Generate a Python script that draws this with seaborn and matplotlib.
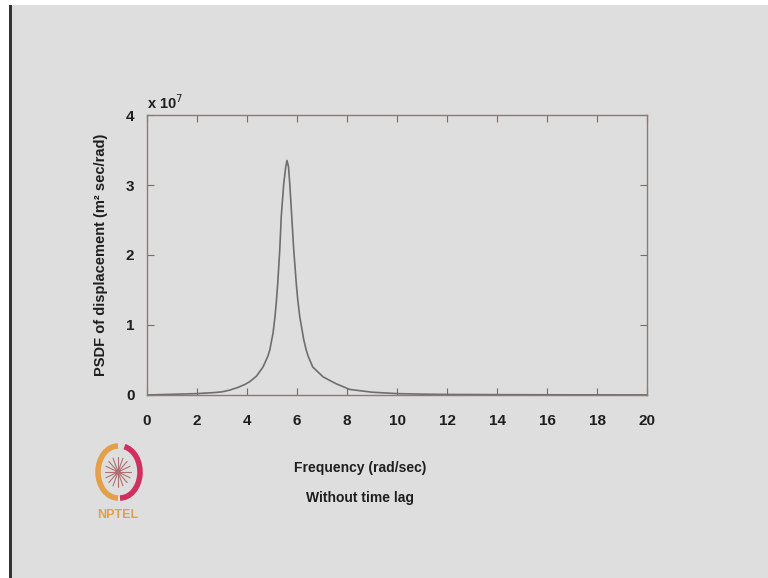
import numpy as np
import pandas as pd
import seaborn as sns
import matplotlib.pyplot as plt
from matplotlib.patches import Rectangle, Ellipse, Arc

# Valores (PSDF em unidades de 1e7)
freq = [0, 1, 2, 2.7, 3.0, 3.31, 3.65, 3.91, 4.11, 4.38, 4.64, 4.83, 4.91, 4.99, 5.04, 5.12,
        5.18, 5.23, 5.31, 5.37, 5.47, 5.55, 5.6, 5.66, 5.71, 5.79, 5.87, 5.97, 6.03, 6.11,
        6.27, 6.37, 6.45, 6.63, 7.04, 7.3, 7.57, 7.84, 8.1, 9, 10, 11, 12, 14, 16, 18, 20]
psd_1e7 = [0.0, 0.01, 0.02, 0.035, 0.045, 0.07, 0.11, 0.15, 0.19, 0.27, 0.40, 0.55, 0.64, 0.79, 0.88, 1.12,
           1.36, 1.6, 2.07, 2.55, 3.02, 3.26, 3.35, 3.26, 3.02, 2.55, 2.07, 1.6, 1.36, 1.12,
           0.79, 0.64, 0.55, 0.40, 0.26, 0.21, 0.16, 0.12, 0.08, 0.04, 0.02, 0.012, 0.008, 0.005,
           0.003, 0.002, 0.001]
xticks = list(range(0, 21, 2))
yticks = [0, 1, 2, 3, 4]

df = pd.DataFrame({'freq': freq, 'psd': psd_1e7})

sns.set_style('white')
plt.rcParams['font.family'] = ['Liberation Sans', 'DejaVu Sans']

bg = '#dedede'
fig = plt.figure(figsize=(7.68, 5.78), dpi=100, facecolor='white')
# fundo do slide
fig.patches.append(Rectangle((11 / 768, 0), 1 - 11 / 768, 1 - 5 / 578, transform=fig.transFigure,
                             facecolor=bg, edgecolor='none', zorder=-2))
fig.patches.append(Rectangle((9 / 768, 0), 2.5 / 768, 1 - 5 / 578, transform=fig.transFigure,
                             facecolor='#333333', edgecolor='none', zorder=-1))

ax = fig.add_axes([147 / 768, 183 / 578, 500 / 768, 280 / 578])
ax.set_facecolor(bg)
sns.lineplot(data=df, x='freq', y='psd', ax=ax, color='#6e6e6e', linewidth=1.2)

ax.set_xlim(0, 20)
ax.set_ylim(0, 4)
ax.set_xticks(xticks)
ax.set_yticks(yticks)
ax.set_xticklabels([str(t) for t in xticks], fontsize=11, fontweight='bold', color='#1e1e1e')
ax.set_yticklabels([str(t) for t in yticks], fontsize=11, fontweight='bold', color='#1e1e1e')
ax.tick_params(axis='x', direction='in', length=5, pad=14, top=True, bottom=True, color='#7a6a6a')
ax.tick_params(axis='y', direction='in', length=5, pad=9, right=True, left=True, color='#7a6a6a')
for s in ax.spines.values():
    s.set_visible(True)
    s.set_color('#8a7a7a')
    s.set_linewidth(1.0)

ax.set_xlabel('')
ax.set_ylabel('PSDF of displacement (m² sec/rad)', fontsize=10.5, fontweight='bold',
              color='#1e1e1e', labelpad=13)
ax.text(0.0, 1.01, 'x 10$^{7}$', transform=ax.transAxes, fontsize=10.5, fontweight='bold',
        color='#1e1e1e', ha='left', va='bottom')

fig.text(360 / 768, 1 - 468 / 578, 'Frequency (rad/sec)', fontsize=10, fontweight='bold',
         color='#1e1e1e', ha='center', va='center')
fig.text(360 / 768, 1 - 498 / 578, 'Without time lag', fontsize=10, fontweight='bold',
         color='#1e1e1e', ha='center', va='center')

# logo NPTEL (aproximado)
lx, ly = 118, 472
logo_ax = fig.add_axes([(lx - 30) / 768, 1 - (ly + 30) / 578, 60 / 768, 60 / 578])
logo_ax.set_xlim(-30, 30)
logo_ax.set_ylim(-30, 30)
logo_ax.axis('off')
logo_ax.add_patch(Arc((0, 0), 40, 52, theta1=90, theta2=270, color='#e3a04a', linewidth=4))
logo_ax.add_patch(Arc((2, 0), 40, 52, theta1=-90, theta2=80, color='#d03060', linewidth=4))
for a in np.linspace(0, np.pi, 8, endpoint=False):
    logo_ax.plot([-13 * np.cos(a), 13 * np.cos(a)], [-15 * np.sin(a), 15 * np.sin(a)],
                 color='#b07070', linewidth=0.8)
logo_ax.add_patch(Ellipse((0, 0), 4, 4, color='#d03060'))
fig.text(lx / 768, 1 - 515 / 578, 'NPTEL', fontsize=9, fontweight='bold', color='#e3a04a',
         ha='center', va='center')

fig.savefig('out.png', dpi=100, facecolor='white')
